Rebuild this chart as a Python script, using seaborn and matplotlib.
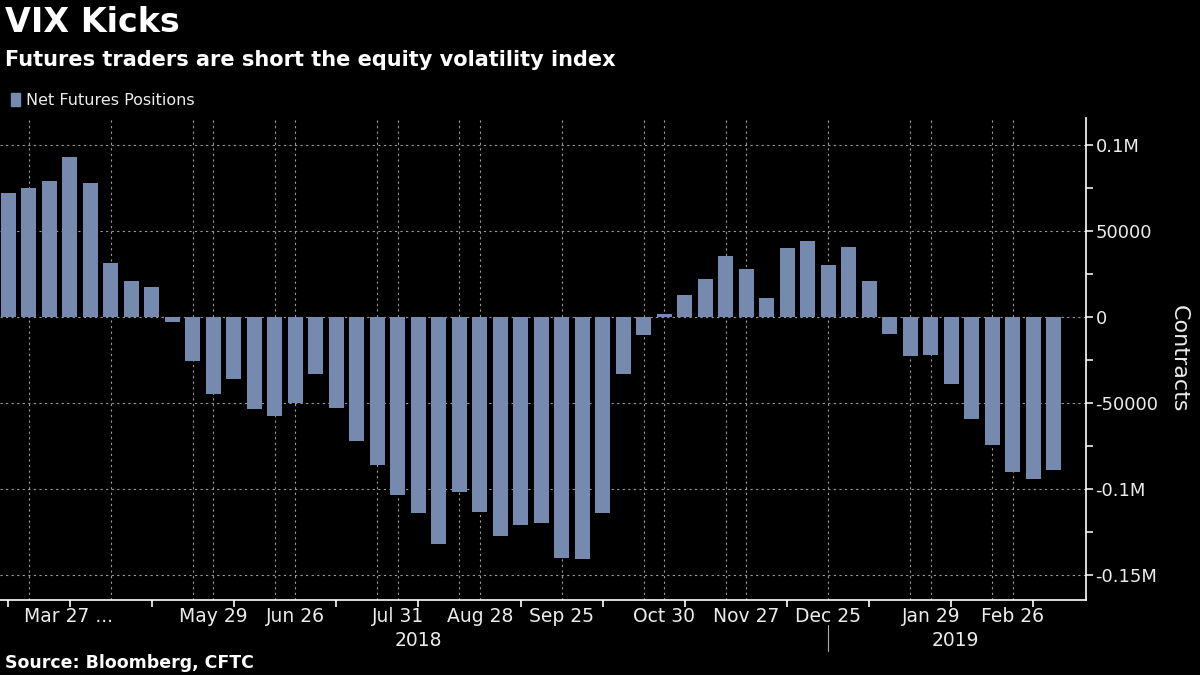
import pandas as pd
import numpy as np
import seaborn as sns
import matplotlib.pyplot as plt
import matplotlib.transforms as mtransforms
from matplotlib.patches import Patch

# weekly net futures positions, VIX (contracts)
weeks = pd.date_range('2018-03-20', periods=52, freq='7D').strftime('%Y-%m-%d').tolist()
positions = [72100, 75000, 79000, 93000, 77900, 31400, 20900, 17400, -3100, -25600,
             -44800, -36000, -53500, -57600, -50000, -33000, -52900, -72100, -86000, -103300,
             -113800, -131800, -101500, -113200, -127100, -120700, -119400, -139900, -140500, -113800,
             -33000, -10300, 1700, 12800, 22100, 35500, 27900, 11000, 40100, 44200,
             30200, 40700, 20900, -9700, -22500, -21900, -38800, -59500, -74200, -89900,
             -94000, -88800]

# x axis text (bar index -> label)
label_pos = [2.93, 10, 14, 19, 23, 27, 32, 36, 40, 45, 49]
label_txt = ['Mar 27 ...', 'May 29', 'Jun 26', 'Jul 31', 'Aug 28', 'Sep 25',
             'Oct 30', 'Nov 27', 'Dec 25', 'Jan 29', 'Feb 26']
grid_pos = [1, 5, 9, 10, 13, 14, 18, 19, 22, 23, 27, 31, 32, 35, 36, 40, 44, 45, 48, 49]
tick_pos = [0, 3, 7, 11, 16, 20, 25, 29, 33, 38, 42, 46, 50]
years = ['2018', '2019']
year_pos = [20, 46.2]
year_break = 40

yticks = [100000, 50000, 0, -50000, -100000, -150000]
ytick_txt = ['0.1M', '50000', '0', '-50000', '-0.1M', '-0.15M']

bar_color = '#7689AF'
fg = '#ECECEC'

df = pd.DataFrame({'week': weeks, 'net': positions})

sns.set_theme(style='dark')
plt.rcParams['font.family'] = ['DejaVu Sans']

fig = plt.figure(figsize=(12, 6.75), dpi=100, facecolor='black')
ax = fig.add_axes([0.0, 0.111, 0.9048, 0.714])
ax.set_facecolor('black')

sns.barplot(data=df, x='week', y='net', color=bar_color, saturation=1,
            width=0.73, ax=ax, order=weeks, linewidth=0, edgecolor='none')

ax.set_xlim(-0.41, 52.55)
ax.set_ylim(-164500, 115700)

# dotted grid
for g in grid_pos:
    ax.axvline(g, color='#9a9a9a', lw=0.8, ls=(0, (2, 3)), zorder=0)
for y in yticks:
    ax.axhline(y, color='#9a9a9a', lw=0.8, ls=(0, (2, 3)), zorder=0)

for s in ['top', 'left']:
    ax.spines[s].set_visible(False)
for s in ['bottom', 'right']:
    ax.spines[s].set_visible(True)
    ax.spines[s].set_color('white')
    ax.spines[s].set_linewidth(1.2)

# y axis on the right
ax.yaxis.tick_right()
ax.yaxis.set_label_position('right')
ax.set_yticks(yticks)
ax.set_yticklabels(ytick_txt)
ax.set_yticks([75000, 25000, -25000, -75000, -125000], minor=True)
ax.tick_params(axis='y', which='both', direction='out', colors=fg, length=5,
               width=1.2, labelsize=13, pad=2, left=False, right=True)
ax.set_ylabel('Contracts', color=fg, fontsize=16, rotation=270, labelpad=22)

# x axis
ax.set_xticks(label_pos)
ax.set_xticklabels(label_txt)
ax.set_xticks(tick_pos, minor=True)
ax.tick_params(axis='x', which='major', length=0, colors=fg, labelsize=13.5, pad=5)
ax.tick_params(axis='x', which='minor', length=5, width=1.2, color='white',
               direction='out', bottom=True)
ax.set_xlabel('')
ax.grid(False)

trans = mtransforms.blended_transform_factory(ax.transData, ax.transAxes)
for yr, xp in zip(years, year_pos):
    ax.text(xp, -0.083, yr, transform=trans, ha='center', va='center',
            color=fg, fontsize=13.5)
ax.plot([year_break, year_break], [-0.052, -0.106], transform=trans,
        color='#aaaaaa', lw=0.8, clip_on=False)

# titles, legend, source
fig.text(0.004, 0.967, 'VIX Kicks', color='white', fontsize=24,
         fontweight='bold', va='center', ha='left')
fig.text(0.004, 0.911, 'Futures traders are short the equity volatility index',
         color='white', fontsize=15, fontweight='bold', va='center', ha='left')
fig.legend(handles=[Patch(color=bar_color, label='Net Futures Positions')],
           loc='center left', bbox_to_anchor=(-0.003, 0.851), frameon=False,
           handlelength=0.6, handleheight=0.8, handletextpad=0.35,
           labelcolor=fg, fontsize=11.5)
fig.text(0.004, 0.018, 'Source: Bloomberg, CFTC', color='white', fontsize=12.5,
         fontweight='bold', va='center', ha='left')

fig.savefig('out.png', dpi=100, facecolor='black')
